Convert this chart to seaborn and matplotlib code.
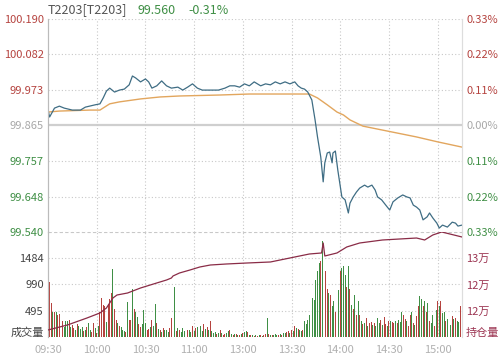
import numpy as np
import matplotlib
matplotlib.use("Agg")
import matplotlib.pyplot as plt
import seaborn as sns

sns.set_style("white")
plt.rcParams['font.family'] = ['Noto Sans CJK SC', 'DejaVu Sans']

# price line (minute since 09:30, trading minutes) and average price line
price_min = [0, 1, 4, 7, 10, 15, 20, 23, 29, 32, 34, 36, 38, 41, 44, 47, 50, 52, 54, 57,
             60, 62, 64, 67, 70, 73, 76, 80, 83, 86, 89, 92, 95, 100, 105, 109, 112, 115, 118, 121,
             124, 127, 131, 134, 137, 140, 143, 146, 149, 152, 154, 156, 158, 160, 162.5, 164.5, 166, 168, 169.5, 170.5,
             172, 173.5, 175, 175.5, 177, 178.5, 181, 183, 185, 186, 188, 190, 192, 195, 197, 199.5, 201.5, 203, 205.5, 209,
             210.5, 212.5, 215.5, 218.5, 221, 223, 225, 227, 229, 231, 233.5, 235, 237, 239.5, 241, 243, 246, 249, 251, 252.5,
             255]
price = [99.912, 99.891, 99.918, 99.924, 99.918, 99.912, 99.912, 99.921, 99.928, 99.931, 99.949, 99.970, 99.979, 99.967, 99.973, 99.976, 99.989, 100.016, 100.010, 99.998,
         100.007, 99.998, 99.979, 99.986, 100.001, 99.986, 99.979, 99.982, 99.973, 99.982, 99.992, 99.979, 99.973, 99.973, 99.973, 99.979, 99.986, 99.986, 99.982, 99.992,
         99.986, 99.998, 99.986, 99.992, 99.989, 99.998, 99.992, 99.998, 99.992, 99.998, 99.986, 99.979, 99.976, 99.967, 99.943, 99.882, 99.830, 99.769, 99.693, 99.751,
         99.781, 99.784, 99.751, 99.781, 99.787, 99.729, 99.647, 99.638, 99.598, 99.628, 99.647, 99.662, 99.674, 99.683, 99.677, 99.683, 99.668, 99.647, 99.638, 99.616,
         99.607, 99.632, 99.644, 99.653, 99.647, 99.644, 99.622, 99.616, 99.607, 99.577, 99.586, 99.598, 99.583, 99.567, 99.552, 99.561, 99.555, 99.570, 99.567, 99.558,
         99.561]

avg_min = [0, 7, 26, 32, 38, 44, 57, 69, 81, 106, 124, 161, 166, 172, 178, 182, 186, 194, 206, 227, 240, 255]
avg_price = [99.906, 99.909, 99.912, 99.912, 99.931, 99.937, 99.946, 99.952, 99.955, 99.958, 99.961, 99.961,
             99.949, 99.928, 99.906, 99.897, 99.882, 99.863, 99.851, 99.830, 99.815, 99.799]

# open interest
oi_min = [0, 12, 24, 32, 36, 40, 42.5, 49, 57, 67, 73, 76, 77, 81, 87.5, 93.5, 100, 110, 122.5, 137,
          149, 161, 168.5, 169.5, 170.5, 178, 184, 192, 206, 227, 232, 237, 242.5, 247.5, 255]
oi = [112840, 114065, 115780, 117010, 118235, 120690, 121420, 121910, 123140, 124370, 125100, 125590, 126085, 126820, 127560, 128290, 128780, 129030, 129270, 129520,
      130500, 131480, 131730, 134180, 130990, 131730, 133200, 134180, 134915, 135400, 134915, 136140, 136880, 136390, 135650]

# volume per minute
volume = [2050, 1040, 640, 470, 470, 480, 410, 440, 280, 300, 190, 300, 300, 320, 190, 220, 170, 130, 250, 200,
          150, 195, 120, 132, 180, 265, 132, 100, 258, 160, 75, 200, 470, 735, 600, 590, 290, 620, 710, 830,
          1282, 530, 320, 258, 200, 195, 132, 110, 100, 660, 320, 320, 900, 530, 480, 383, 250, 195, 250, 510,
          258, 132, 150, 195, 320, 200, 620, 258, 150, 132, 100, 160, 140, 132, 100, 160, 360, 200, 949, 120,
          160, 132, 100, 160, 120, 110, 132, 130, 100, 215, 120, 160, 190, 150, 215, 120, 240, 150, 190, 130,
          300, 110, 70, 90, 60, 80, 132, 70, 40, 50, 70, 110, 132, 60, 30, 50, 60, 40, 30, 60,
          75, 90, 110, 100, 40, 40, 30, 20, 40, 25, 30, 45, 20, 35, 60, 360, 50, 40, 30, 45,
          55, 30, 40, 60, 35, 80, 70, 95, 110, 75, 132, 110, 215, 170, 150, 132, 120, 132, 300, 250,
          320, 420, 895, 735, 700, 1080, 1240, 1400, 1430, 1800, 1590, 1240, 895, 830, 800, 580, 670, 480, 670, 890,
          1240, 1300, 1330, 1170, 950, 1330, 900, 610, 520, 800, 420, 680, 420, 300, 240, 260, 360, 200, 260, 290,
          230, 260, 200, 360, 260, 320, 230, 380, 250, 200, 300, 300, 290, 260, 300, 260, 320, 280, 480, 420,
          330, 300, 200, 420, 480, 260, 230, 390, 580, 770, 710, 580, 670, 480, 640, 300, 260, 420, 200, 510,
          670, 580, 670, 450, 480, 300, 330, 260, 230, 400, 330, 360, 300, 290, 580]
vol_dir = ("rrrgrgrrgrgggrgrrgrgggrgrggrrgrg"
           "rrrrgrrrgrrgrgggrgrrgrggrrgggrrg"
           "rggrgrgrgggrrrgrgrgggrrggrgrgrgg"
           "rgrgrgggrgrgrrggrgrgrgrgrggrgrgr"
           "grgrgrrgrgrgggrgrggrrgrgrgrggrgg"
           "ggggggggrggrrgrggrggrgggrgrgrgrg"
           "rgrgrgrrgrgggrgrrgrgrrgrgggrrgrr"
           "grgrrggrgrgrggrgrgrggrgrgrgrggr")

price_ticks = [99.540, 99.648, 99.757, 99.865, 99.973, 100.082, 100.190]
price_labels = ["99.540", "99.648", "99.757", "99.865", "99.973", "100.082", "100.190"]
pct_labels = ["0.33%", "0.22%", "0.11%", "0.00%", "0.11%", "0.22%", "0.33%"]
vol_ticks = [94, 495, 990, 1484]
vol_labels = ["成交量", "495", "990", "1484"]
oi_ticks = [112350, 117500, 124000, 130500]
oi_labels = ["持仓量", "12万", "12万", "13万"]
time_ticks = [0, 30, 60, 90, 120, 150, 180, 210, 240]
time_labels = ["09:30", "10:00", "10:30", "11:00", "13:00", "13:30", "14:00", "14:30", "15:00"]

RED = "#b5433f"
GREEN = "#3f8f45"
GRAY = "#a8a8a8"
MAROON = "#9c3552"
grid_kw = dict(color="#c8c8c8", lw=0.8, ls=(0, (1, 2)))

fig = plt.figure(figsize=(5, 3.58), dpi=100)
ax = fig.add_axes([0.096, 0.352, 0.828, 0.595])
axv = fig.add_axes([0.096, 0.0587, 0.828, 0.2933])

# ---- price panel
for v in price_ticks:
    if v == 99.865:
        ax.axhline(v, color="#cfcfcf", lw=1.6, zorder=1)
    else:
        ax.axhline(v, **grid_kw, zorder=1)
for t in time_ticks[1:]:
    ax.axvline(t, **grid_kw, zorder=1)
sns.lineplot(x=avg_min, y=avg_price, ax=ax, color="#e2a65e", lw=1.0, zorder=3)
sns.lineplot(x=price_min, y=price, ax=ax, color="#3f6d84", lw=0.9, zorder=4)
ax.set_xlim(0, 255)
ax.set_ylim(99.540, 100.190)
ax.set_xticks([])
ax.set_yticks(price_ticks)
ax.set_yticklabels(price_labels)
ax.tick_params(axis="y", length=0, pad=3, labelsize=8)
for lab, v in zip(ax.get_yticklabels(), price_ticks):
    lab.set_color(RED if v > 99.87 else (GRAY if v == 99.865 else GREEN))
ax.set_xlabel("")
ax.set_ylabel("")

axp = ax.twinx()
axp.set_ylim(ax.get_ylim())
axp.set_yticks(price_ticks)
axp.set_yticklabels(pct_labels)
axp.tick_params(axis="y", length=0, pad=3, labelsize=8)
for lab, v in zip(axp.get_yticklabels(), price_ticks):
    lab.set_color(RED if v > 99.87 else (GRAY if v == 99.865 else GREEN))

for a in (ax, axp):
    for s in ("top", "bottom"):
        a.spines[s].set_visible(False)
    a.spines["left"].set_color("#bbbbbb")
    a.spines["right"].set_color("#dddddd")

# ---- volume panel
minutes = np.arange(len(volume))
colors = [RED if d == "r" else GREEN for d in vol_dir[:len(volume)]]
for v in vol_ticks[1:]:
    axv.axhline(v, **grid_kw, zorder=1)
axv.axhline(1979, color="#c8c8c8", lw=0.8, ls=(0, (3, 2)), zorder=1)
for t in time_ticks[1:]:
    axv.axvline(t, **grid_kw, zorder=1)
axv.bar(minutes, volume, width=0.6, color=colors, lw=0, zorder=2)
axv.set_xlim(0, 255)
axv.set_ylim(0, 1979)
axv.set_yticks(vol_ticks)
axv.set_yticklabels(vol_labels)
axv.tick_params(axis="y", length=0, pad=3, labelsize=8, labelcolor="#444444")
axv.set_xticks(time_ticks)
axv.set_xticklabels(time_labels)
axv.tick_params(axis="x", length=0, pad=6, labelsize=8, labelcolor="#b0b0b0")

axo = axv.twinx()
sns.lineplot(x=oi_min, y=oi, ax=axo, color="#8a2c47", lw=0.9, zorder=5)
axo.set_ylim(111120, 136880)
axo.set_yticks(oi_ticks)
axo.set_yticklabels(oi_labels)
axo.tick_params(axis="y", length=0, pad=3, labelsize=8, labelcolor=MAROON)
axo.set_xlabel("")
axo.set_ylabel("")

for a in (axv, axo):
    for s in ("top", "bottom"):
        a.spines[s].set_visible(False)
    a.spines["left"].set_color("#bbbbbb")
    a.spines["right"].set_color("#dddddd")

# ---- title
fig.text(48 / 500, 1 - 10 / 358, "T2203[T2203]", color="#555555", fontsize=9, va="center")
fig.text(137 / 500, 1 - 10 / 358, "99.560", color=GREEN, fontsize=9, va="center")
fig.text(188 / 500, 1 - 10 / 358, "-0.31%", color=GREEN, fontsize=9, va="center")

fig.savefig("out.png", dpi=100)
